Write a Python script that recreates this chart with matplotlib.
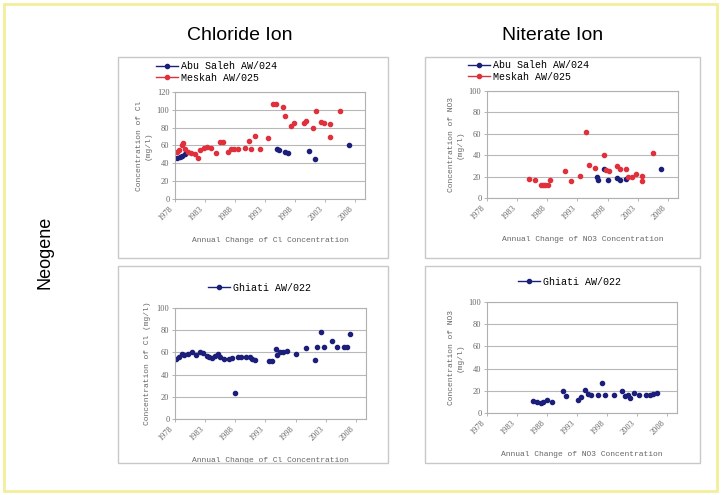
import matplotlib.pyplot as plt
from matplotlib.patches import Rectangle

# Chloride - Abu Saleh AW/024 and Meskah AW/025
cl_abu_yr = [1978.3, 1978.8, 1979.2, 1979.6, 1995.0, 1995.4, 1996.3, 1996.8, 2000.3, 2001.3, 2007.0]
cl_abu_val = [46.5, 47, 48, 51, 56, 55, 53, 52, 54, 45, 61]
cl_mes_yr = [1978.3, 1978.6, 1979.1, 1979.4, 1979.7, 1980.2, 1980.7, 1981.3, 1981.9, 1982.1,
             1982.9, 1983.4, 1984.0, 1984.9, 1985.5, 1986.0, 1986.8, 1987.4, 1987.9, 1988.5,
             1989.6, 1990.4, 1990.7, 1991.4, 1992.1, 1993.5, 1994.3, 1994.8, 1996.0, 1996.4,
             1997.3, 1997.9, 1999.5, 1999.9, 2001.0, 2001.6, 2002.3, 2002.9, 2003.8, 2003.8, 2005.6]
cl_mes_val = [53, 55, 61, 63, 56, 53, 52, 51, 46, 55,
              57, 58, 57, 52, 64, 64, 53, 56, 56, 56,
              57, 65, 56, 71, 56, 68, 106, 106, 103, 93,
              82, 85, 85, 87, 80, 99, 86, 85, 84, 70, 99]

# Nitrate - Abu Saleh AW/024 and Meskah AW/025
no3_abu_yr = [1996.2, 1996.5, 1997.5, 1998.1, 1999.6, 2000.1, 2001.1, 2006.8]
no3_abu_val = [20, 17, 27, 16.5, 18.6, 17, 17.7, 27.3]
no3_mes_yr = [1985.0, 1985.9, 1987.0, 1987.3, 1987.6, 1988.1, 1988.4, 1990.9, 1992.0, 1993.5,
              1994.4, 1995.0, 1995.9, 1997.5, 1997.8, 1998.3, 1999.6, 2000.0, 2001.0, 2001.4,
              2002.0, 2002.7, 2003.7, 2003.7, 2005.6]
no3_mes_val = [17.7, 16.5, 12.4, 12.4, 12.4, 12.4, 17, 25, 16, 21,
               61.5, 31, 28, 40, 26, 25, 29.5, 27, 27, 20,
               20, 22, 21, 15.5, 42.5]

# Ghiati AW/022
gh_cl_yr = [1978.2, 1978.6, 1979.1, 1979.5, 1980.2, 1980.9, 1981.5, 1982.1, 1982.6, 1983.3,
            1983.7, 1984.1, 1984.6, 1985.1, 1985.4, 1986.2, 1986.9, 1987.5, 1988.0, 1988.4,
            1988.9, 1989.8, 1990.4, 1990.8, 1991.3, 1993.6, 1994.1, 1994.7, 1994.9, 1995.5,
            1996.0, 1996.6, 1998.0, 1999.7, 2001.2, 2001.6, 2002.2, 2002.7, 2004.1, 2004.9,
            2006.1, 2006.6, 2007.1]
gh_cl_val = [54.5, 56, 59, 58, 58.7, 60, 58, 60, 59.6, 57,
             56, 55, 57, 59, 56, 54, 54.5, 55, 23.7, 55.7,
             56, 56, 56, 54, 53, 52, 52.5, 63.5, 58, 60.5,
             60, 60.9, 58.7, 64, 53.6, 65, 78.4, 65, 70, 65,
             65, 65, 77]
gh_no3_yr = [1985.6, 1986.4, 1987.0, 1987.4, 1988.0, 1988.9, 1990.6, 1991.2, 1993.2, 1993.7,
             1994.3, 1994.8, 1995.4, 1996.5, 1997.2, 1997.7, 1999.2, 2000.6, 2001.1, 2001.5,
             2001.9, 2002.5, 2003.4, 2004.6, 2005.2, 2005.7, 2006.3]
gh_no3_val = [10.5, 10, 9, 9.9, 12, 10, 19.5, 15, 12, 14.4,
              21, 17, 16, 16, 27, 16, 16, 19.5, 15, 16,
              13.5, 18, 16.5, 16.5, 16.5, 17, 18]

year_ticks = [1978, 1983, 1988, 1993, 1998, 2003, 2008]

BLUE = '#1c1f7a'
RED = '#e0303c'
W, H = 722, 495

fig = plt.figure(figsize=(7.22, 4.95), dpi=100)
fig.patch.set_facecolor('white')

# outer yellow frame and grey panel boxes
fig.patches.append(Rectangle((4 / W, 1 - 491 / H), 713 / W, 487 / H, transform=fig.transFigure,
                             fill=False, edgecolor='#f2ee9a', linewidth=2))
for x0, y0, x1, y1 in [(118, 57, 388, 258), (425, 57, 700, 258),
                       (118, 266, 388, 463), (425, 266, 700, 463)]:
    fig.patches.append(Rectangle((x0 / W, 1 - y1 / H), (x1 - x0) / W, (y1 - y0) / H,
                                 transform=fig.transFigure, fill=False,
                                 edgecolor='#c8c8c8', linewidth=1))


def px_axes(x0, y0, x1, y1):
    return fig.add_axes([x0 / W, 1 - y1 / H, (x1 - x0) / W, (y1 - y0) / H])


def style(ax, ymax, ystep, ylabel, xlabel):
    ax.set_xlim(1978, 2009.7)
    ax.set_ylim(0, ymax)
    ax.set_xticks(year_ticks)
    ax.set_xticklabels([str(y) for y in year_ticks], rotation=45, ha='right',
                       fontsize=6, family='Liberation Serif', color='#666666')
    ax.set_yticks(range(0, ymax + 1, ystep))
    ax.set_yticklabels([str(v) for v in range(0, ymax + 1, ystep)], fontsize=6,
                       family='Liberation Serif', color='#666666')
    ax.tick_params(length=2, width=0.5, color='#999999', pad=2)
    ax.grid(axis='y', color='#b8b8b8', linewidth=0.8)
    ax.set_axisbelow(True)
    for s in ax.spines.values():
        s.set_color('#b0b0b0')
        s.set_linewidth(0.8)
    ax.set_ylabel(ylabel, fontsize=5.8, family='Liberation Mono', color='#666666', labelpad=4)
    ax.set_xlabel(xlabel, fontsize=5.8, family='Liberation Mono', color='#666666', labelpad=11)


def series(ax, x, y, color, label):
    ax.plot(x, y, linestyle='none', marker='o', markersize=3.0, color=color,
            markeredgecolor=color, label=label)


leg_kw = dict(frameon=False, prop={'family': 'Liberation Mono', 'size': 7.2},
              handlelength=2.2, handletextpad=0.3, labelspacing=0.15, borderaxespad=0)

ax1 = px_axes(175, 92, 365, 199)
series(ax1, cl_abu_yr, cl_abu_val, BLUE, 'Abu Saleh AW/024')
series(ax1, cl_mes_yr, cl_mes_val, RED, 'Meskah AW/025')
style(ax1, 120, 20, 'Concentration of Cl\n(mg/l)', 'Annual Change of Cl Concentration')
h = [plt.Line2D([], [], color=c, marker='o', markersize=3, lw=1) for c in (BLUE, RED)]
ax1.legend(h, ['Abu Saleh AW/024', 'Meskah AW/025'], loc='lower left',
           bbox_to_anchor=(-0.12, 1.05), **leg_kw)

ax2 = px_axes(487, 91, 678, 198)
series(ax2, no3_abu_yr, no3_abu_val, BLUE, 'Abu Saleh AW/024')
series(ax2, no3_mes_yr, no3_mes_val, RED, 'Meskah AW/025')
style(ax2, 100, 20, 'Concentration of NO3\n(mg/l)', 'Annual Change of NO3 Concentration')
ax2.legend(h, ['Abu Saleh AW/024', 'Meskah AW/025'], loc='lower left',
           bbox_to_anchor=(-0.12, 1.05), **leg_kw)

ax3 = px_axes(175, 308, 366, 419)
series(ax3, gh_cl_yr, gh_cl_val, BLUE, 'Ghiati AW/022')
style(ax3, 100, 20, 'Concentration of Cl (mg/l)', 'Annual Change of Cl Concentration')
hb = [plt.Line2D([], [], color=BLUE, marker='o', markersize=3, lw=1)]
ax3.legend(hb, ['Ghiati AW/022'], loc='lower left', bbox_to_anchor=(0.15, 1.1), **leg_kw)

ax4 = px_axes(487, 302, 677, 413)
series(ax4, gh_no3_yr, gh_no3_val, BLUE, 'Ghiati AW/022')
style(ax4, 100, 20, 'Concentration of NO3\n(mg/l)', 'Annual Change of NO3 Concentration')
ax4.legend(hb, ['Ghiati AW/022'], loc='lower left', bbox_to_anchor=(0.14, 1.1), **leg_kw)

fig.text(240 / W, 1 - 35 / H, 'Chloride Ion', ha='center', va='center', fontsize=14,
         family='Liberation Sans')
fig.text(553 / W, 1 - 35 / H, 'Niterate Ion', ha='center', va='center', fontsize=14,
         family='Liberation Sans')
fig.text(45 / W, 1 - 252 / H, 'Neogene', ha='center', va='center', fontsize=13,
         rotation=90, family='Liberation Sans')

fig.savefig('out.png', dpi=100)
